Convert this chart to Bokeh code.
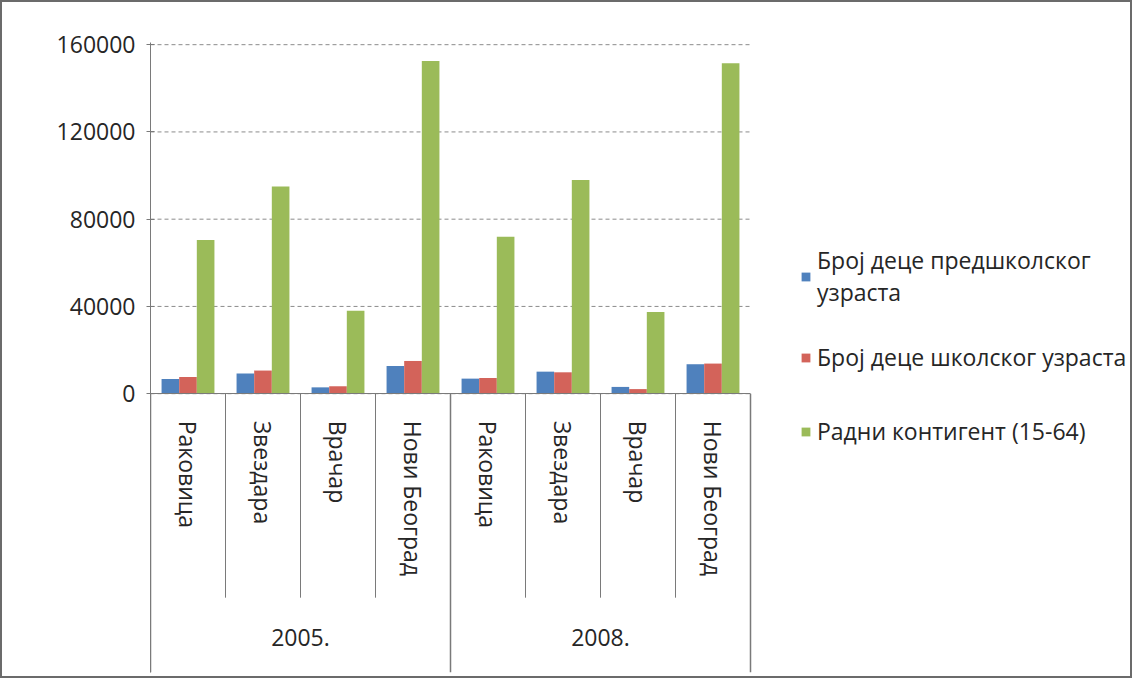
from bokeh.plotting import figure
from bokeh.models import (Range1d, FixedTicker, NumeralTickFormatter, LinearAxis,
                          Legend, LegendItem, ColumnDataSource)
from bokeh.transform import dodge
from bokeh.embed import file_html
from bokeh.resources import INLINE

# ---------------- data ----------------
years = ["2005.", "2008."]
municipalities = ["Раковица", "Звездара", "Врачар", "Нови Београд"]
preschool = [6700, 9300, 2900, 12700, 6900, 10100, 3100, 13500]
school = [7700, 10600, 3400, 15000, 7200, 9800, 2100, 13800]
working = [70500, 95000, 38000, 152500, 72000, 98000, 37500, 151500]
series_names = ["Број деце предшколског\nузраста",
                "Број деце школског узраста",
                "Радни контигент (15-64)"]
y_ticks = [0, 40000, 80000, 120000, 160000]

# ---------------- style ----------------
FONT = "Open Sans"
FS = "23px"
TXT = "#262626"
BLUE, RED, GREEN = "#4F81BD", "#D3635A", "#9BBB59"
LINE = "#7a7a7a"

FRAME_W, FRAME_H = 980, 630
PLOT_W = 600                      # pixels used by the category area
Y_END = 161000
PX_PER_UNIT = 349 / 160000.0
Y_START = Y_END - FRAME_H / PX_PER_UNIT
LEAF_DEPTH = -204 / PX_PER_UNIT     # how far the category separators reach
YEAR_AXIS_Y = -229 / PX_PER_UNIT    # where the year labels sit

n = len(municipalities)
labels = [m for _ in years for m in municipalities]
total = len(labels)
xs = [i + 0.5 for i in range(total)]
X_END = total * FRAME_W / PLOT_W

src = ColumnDataSource(dict(x=xs, pre=preschool, sch=school, wrk=working))

p = figure(frame_width=FRAME_W, frame_height=FRAME_H,
           x_range=Range1d(0, X_END), y_range=Range1d(Y_START, Y_END),
           output_backend="svg", toolbar_location=None,
           min_border_left=148, min_border_right=0,
           min_border_top=40, min_border_bottom=4)
p.styles = {"border": "2px solid #6b6b6b"}
p.outline_line_color = None
p.background_fill_color = "white"
p.border_fill_color = "white"
p.xgrid.visible = False
p.ygrid.visible = False

# horizontal gridlines over the category area
p.segment(x0=[0] * len(y_ticks), x1=[total] * len(y_ticks), y0=y_ticks, y1=y_ticks,
          line_color="#8c8c8c", line_dash="4 3", line_width=1)

# separators in the category-label zone
leaf_b = [i for i in range(1, total) if i % n != 0]
group_b = [i for i in range(0, total + 1) if i % n == 0]
p.segment(x0=leaf_b, x1=leaf_b, y0=0, y1=LEAF_DEPTH, line_color=LINE, line_width=1)
p.segment(x0=group_b, x1=group_b, y0=0, y1=Y_START, line_color=LINE, line_width=1.5)

bw = 0.235
r1 = p.vbar(x=dodge("x", -bw), top="pre", width=bw, source=src,
            fill_color=BLUE, line_color=None)
r2 = p.vbar(x=dodge("x", 0), top="sch", width=bw, source=src,
            fill_color=RED, line_color=None)
r3 = p.vbar(x=dodge("x", bw), top="wrk", width=bw, source=src,
            fill_color=GREEN, line_color=None)

# y axis
ya = p.yaxis[0]
ya.ticker = FixedTicker(ticks=y_ticks)
ya.formatter = NumeralTickFormatter(format="0")
ya.axis_line_color = LINE
ya.major_tick_line_color = LINE
ya.major_tick_in = 4
ya.major_tick_out = 4
ya.minor_tick_line_color = None
ya.major_label_standoff = 11
ya.major_label_text_font = FONT
ya.major_label_text_font_size = FS
ya.major_label_text_color = TXT

# x axis (municipalities), drawn at y=0 over the label zone
xa = p.xaxis[0]
xa.fixed_location = 0
xa.bounds = (0, total)
xa.ticker = FixedTicker(ticks=xs)
xa.major_label_overrides = {x: lab for x, lab in zip(xs, labels)}
xa.axis_line_color = LINE
xa.major_tick_line_color = None
xa.minor_tick_line_color = None
xa.major_label_orientation = "vertical"
xa.major_label_standoff = 21
xa.major_label_text_font = FONT
xa.major_label_text_font_size = FS
xa.major_label_text_color = TXT

# year axis
year_x = [n * (g + 0.5) for g in range(len(years))]
yr = LinearAxis(fixed_location=YEAR_AXIS_Y, bounds=(0, total),
                ticker=FixedTicker(ticks=year_x),
                major_label_overrides={x: y for x, y in zip(year_x, years)})
yr.axis_line_color = None
yr.major_tick_line_color = None
yr.minor_tick_line_color = None
yr.major_label_standoff = 0
yr.major_label_text_font = FONT
yr.major_label_text_font_size = FS
yr.major_label_text_color = TXT
p.add_layout(yr, "below")

# legend, right of the category area
legend = Legend(items=[LegendItem(label=nm, renderers=[r])
                       for nm, r in zip(series_names, [r1, r2, r3])],
                location=(PLOT_W + 50, 216), padding=0, margin=0, spacing=24,
                label_height=50,
                border_line_color=None, background_fill_alpha=0,
                glyph_width=11, glyph_height=11, label_standoff=6,
                label_text_font=FONT, label_text_font_size="23px",
                label_text_color=TXT)
p.add_layout(legend, "center")

open("out.html", "w").write(file_html(p, INLINE))
